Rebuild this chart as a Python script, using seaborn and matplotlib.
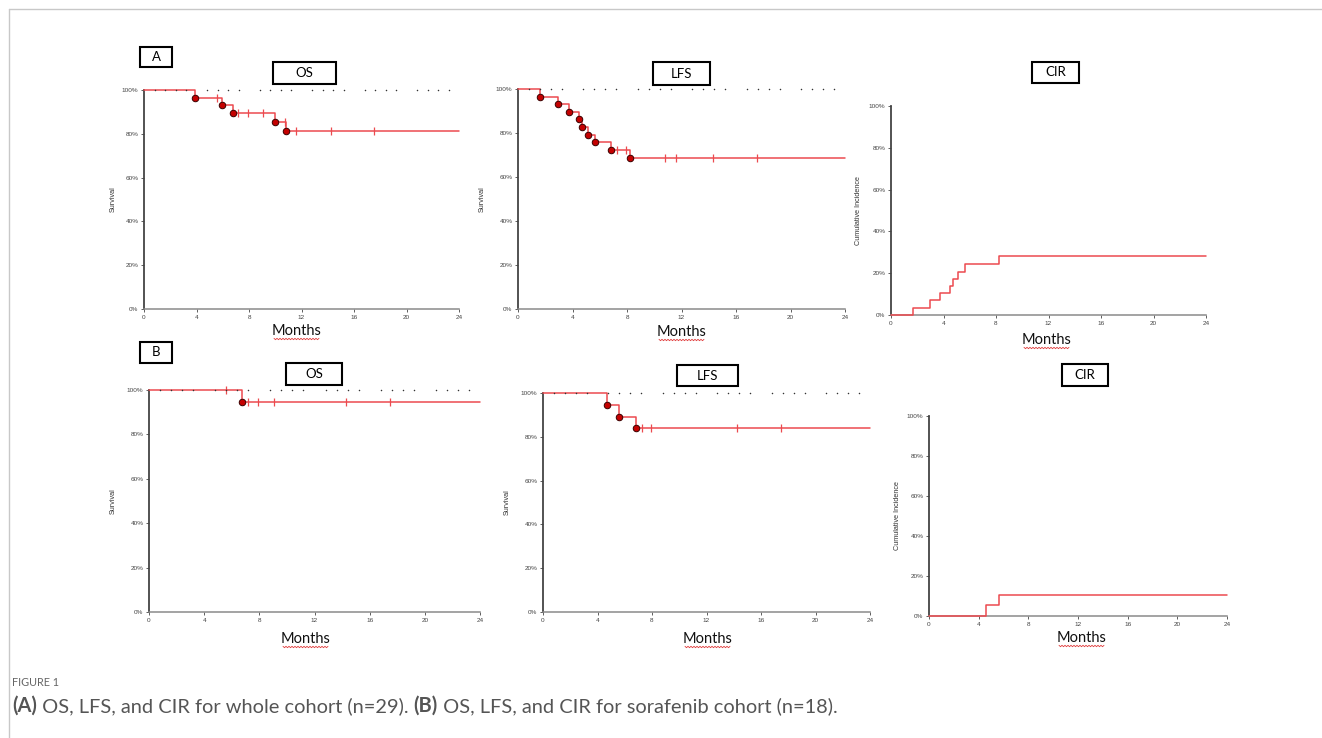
import numpy as np
import pandas as pd
import matplotlib
matplotlib.use("Agg")
import matplotlib.pyplot as plt
import seaborn as sns
from matplotlib.lines import Line2D
from matplotlib.patches import Rectangle

# ---------------- data (months, percent) ----------------
# (A) whole cohort
os_a_time = [0, 3.86, 5.92, 6.81, 9.99, 10.8, 24]
os_a_surv = [100, 96.5, 93.1, 89.7, 85.6, 81.3, 81.3]
os_a_cens = [5.57, 7.17, 7.93, 9.08, 10.73, 11.57, 14.24, 17.5]

lfs_a_time = [0, 1.64, 2.94, 3.75, 4.51, 4.73, 5.12, 5.63, 6.83, 8.25, 24]
lfs_a_surv = [100, 96.5, 93.1, 89.7, 86.2, 82.8, 79.3, 75.9, 72.4, 68.6, 68.6]
lfs_a_cens = [7.25, 7.94, 10.8, 11.63, 14.33, 17.56]

cir_a_time = [0, 1.65, 3.0, 3.76, 4.52, 4.7, 5.13, 5.64, 8.23, 24]
cir_a_inc = [0, 3.5, 7.0, 10.5, 14.0, 17.2, 20.6, 24.2, 28.1, 28.1]

# (B) sorafenib cohort
os_b_time = [0, 6.77, 24]
os_b_surv = [100, 94.4, 94.4]
os_b_cens = [5.58, 7.2, 7.93, 9.06, 14.26, 17.47]

lfs_b_time = [0, 4.67, 5.6, 6.79, 24]
lfs_b_surv = [100, 94.4, 88.9, 84.0, 84.0]
lfs_b_cens = [7.26, 7.94, 14.27, 17.47]

cir_b_time = [0, 4.63, 5.6, 24]
cir_b_inc = [0, 5.3, 10.5, 10.5]

x_ticks = [0, 4, 8, 12, 16, 20, 24]
y_ticks = [0, 20, 40, 60, 80, 100]
y_tick_labels = ["0%", "20%", "40%", "60%", "80%", "100%"]

# ---------------- style ----------------
W, H = 1322, 738
sns.set_theme(style="ticks")
plt.rcParams["font.family"] = ["Liberation Sans", "DejaVu Sans"]

RED = "#ec4a4f"
EV_FACE = "#c40000"
EV_EDGE = "#3a0000"

fig = plt.figure(figsize=(W / 100, H / 100), dpi=100)
fig.patch.set_facecolor("white")


def fx(x):
    return x / W


def fy(y):
    return 1 - y / H


def make_ax(x0, x1, ytop, ybot):
    return fig.add_axes([fx(x0), fy(ybot), fx(x1) - fx(x0), (ybot - ytop) / H])


def step_value(times, vals, t):
    idx = np.searchsorted(np.asarray(times), t, side="right") - 1
    return np.asarray(vals)[idx]


def style_ax(ax, ylabel, pad):
    ax.set_xlim(0, 24)
    ax.set_ylim(0, 100)
    ax.set_facecolor("white")
    for s in ["top", "right"]:
        ax.spines[s].set_visible(False)
    ax.spines["left"].set_color("#444444")
    ax.spines["left"].set_linewidth(1.3)
    ax.spines["bottom"].set_color("#8a8a8a")
    ax.spines["bottom"].set_linewidth(1.1)
    ax.set_xticks(x_ticks)
    ax.set_xticklabels([str(v) for v in x_ticks])
    ax.set_yticks(y_ticks)
    ax.set_yticklabels(y_tick_labels)
    ax.tick_params(axis="both", labelsize=4.6, length=2.5, width=0.6,
                   colors="#444444", pad=1.5, direction="out")
    ax.set_xlabel("")
    ax.set_ylabel(ylabel, fontsize=5.2, color="#333333", labelpad=pad)
    ax.grid(False)


def dots_top(ax):
    xs = [round(0.8 * k, 2) for k in range(1, 30) if k % 5 != 0]
    ax.scatter(xs, [100] * len(xs), s=1.2, color="#333333", zorder=6,
               clip_on=False, linewidths=0)


def km_panel(ax, times, surv, cens):
    df = pd.DataFrame({"t": times, "s": surv})
    sns.lineplot(data=df, x="t", y="s", ax=ax, drawstyle="steps-post",
                 color=RED, linewidth=1.1, estimator=None, sort=False,
                 clip_on=False, zorder=3)
    cy = [step_value(times, surv, c) for c in cens]
    sns.scatterplot(x=cens, y=cy, ax=ax, marker="|", s=30, color=RED,
                    linewidth=0.9, zorder=4, clip_on=False)
    ev = pd.DataFrame({"t": times[1:-1], "s": surv[1:-1]})
    sns.scatterplot(data=ev, x="t", y="s", ax=ax, s=22, color=EV_FACE,
                    edgecolor=EV_EDGE, linewidth=0.7, zorder=5, clip_on=False)
    dots_top(ax)


def cir_panel(ax, times, inc):
    df = pd.DataFrame({"t": times, "v": inc})
    sns.lineplot(data=df, x="t", y="v", ax=ax, drawstyle="steps-post",
                 color=RED, linewidth=1.1, estimator=None, sort=False,
                 clip_on=False, zorder=3)


# ---------------- panels ----------------
ax1 = make_ax(144, 459, 90, 309)
km_panel(ax1, os_a_time, os_a_surv, os_a_cens)
style_ax(ax1, "Survival", 3.5)

ax2 = make_ax(518, 845, 89, 309)
km_panel(ax2, lfs_a_time, lfs_a_surv, lfs_a_cens)
style_ax(ax2, "Survival", 7)

ax3 = make_ax(891, 1206, 106, 315)
cir_panel(ax3, cir_a_time, cir_a_inc)
style_ax(ax3, "Cumulative Incidence", 5)

ax4 = make_ax(149, 480, 390, 612)
km_panel(ax4, os_b_time, os_b_surv, os_b_cens)
style_ax(ax4, "Survival", 7)

ax5 = make_ax(543, 870, 393, 612)
km_panel(ax5, lfs_b_time, lfs_b_surv, lfs_b_cens)
style_ax(ax5, "Survival", 7)

ax6 = make_ax(929, 1227, 416, 616)
cir_panel(ax6, cir_b_time, cir_b_inc)
style_ax(ax6, "Cumulative Incidence", 4.5)

# ---------------- boxes ----------------
def box(x0, x1, y0, y1, label):
    fig.add_artist(Rectangle((fx(x0), fy(y1)), fx(x1) - fx(x0), (y1 - y0) / H,
                             transform=fig.transFigure, facecolor="white",
                             edgecolor="black", linewidth=1.5))
    fig.text(fx((x0 + x1) / 2), fy((y0 + y1) / 2), label, ha="center",
             va="center", fontsize=9.5, family=["Lato", "DejaVu Sans"],
             color="black")


box(140, 172, 47, 67, "A")
box(273, 336, 62, 84, "OS")
box(653, 710, 62, 85, "LFS")
box(1032, 1079, 62, 83, "CIR")
box(140, 172, 342, 363, "B")
box(286, 342, 363, 385, "OS")
box(677, 738, 365, 386, "LFS")
box(1062, 1108, 364, 386, "CIR")

# ---------------- "Months" labels with wavy underline ----------------
def months(xc, yc):
    fig.text(fx(xc), fy(yc), "Months", ha="center", va="center",
             fontsize=10.5, family=["Lato", "DejaVu Sans"], color="#111111")
    xs = np.arange(xc - 23, xc + 23.5, 1.5)
    ys = np.array([yc + 8 + (0.7 if i % 2 else -0.7) for i in range(len(xs))])
    fig.add_artist(Line2D(fx(xs), fy(ys), transform=fig.transFigure,
                          color="#e03c3c", linewidth=0.6))


months(297, 331)
months(682, 332)
months(1047, 340)
months(306, 639)
months(708, 639)
months(1082, 638)

# ---------------- frame lines ----------------
fig.add_artist(Line2D([fx(9), fx(W)], [fy(9), fy(9)], transform=fig.transFigure,
                      color="#c8c8c8", linewidth=1.0))
fig.add_artist(Line2D([fx(9), fx(9)], [fy(9), fy(H)], transform=fig.transFigure,
                      color="#c8c8c8", linewidth=1.0))

# ---------------- caption ----------------
cap_font = ["Lato", "DejaVu Sans"]
fig.text(fx(12), fy(683), "FIGURE 1", ha="left", va="center", fontsize=7.8,
         family=cap_font, color="#666666")

renderer = fig.canvas.get_renderer()
pieces = [("(A)", "bold"), (" OS, LFS, and CIR for whole cohort (n=29). ", "normal"),
          ("(B)", "bold"), (" OS, LFS, and CIR for sorafenib cohort (n=18).", "normal")]
xcur = 12
for txt, wt in pieces:
    t = fig.text(fx(xcur), fy(706), txt, ha="left", va="center", fontsize=14.4,
                 family=cap_font, color="#555555", fontweight=wt)
    bb = t.get_window_extent(renderer=renderer)
    xcur += bb.width

fig.savefig("out.png", dpi=100, facecolor="white")
